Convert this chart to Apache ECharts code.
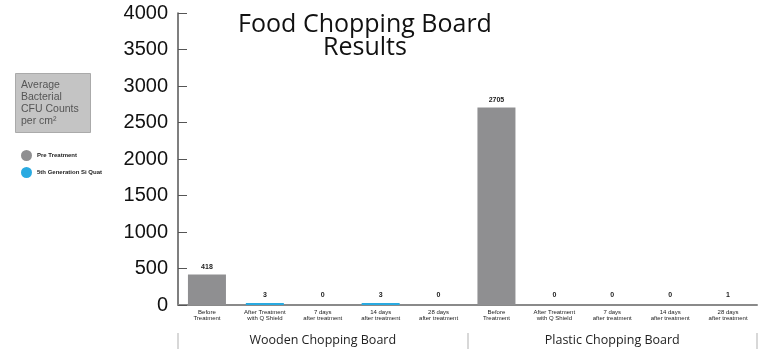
<!DOCTYPE html>
<html>
<head>
<meta charset="utf-8">
<script src="https://cdn.jsdelivr.net/npm/echarts@6/dist/echarts.min.js"></script>
<style>
  html, body { margin: 0; padding: 0; background: #fff; }
  #chart { width: 773px; height: 350px; }
</style>
</head>
<body>
<div id="chart"></div>
<script>
// categories along the x axis
const stages = [
  "Before\nTreatment", "After Treatment\nwith Q Shield", "7 days\nafter treatment",
  "14 days\nafter treatment", "28 days\nafter treatment",
  "Before\nTreatment", "After Treatment\nwith Q Shield", "7 days\nafter treatment",
  "14 days\nafter treatment", "28 days\nafter treatment"
];
const boards = ["Wooden Chopping Board", "Plastic Chopping Board"];

// CFU counts per cm2
const preTreatment = [418, null, null, null, null, 2705, null, null, null, null];
const siQuat = [null, 3, 0, 3, 0, null, 0, 0, 0, 1];

const yTicks = { min: 0, max: 4000, interval: 500 };

const chart = echarts.init(document.getElementById("chart"));

const labelStyle = {
  show: true,
  position: "top",
  distance: 4,
  fontSize: 7,
  fontWeight: "bold",
  color: "#222",
  fontFamily: "Liberation Sans",
};

chart.setOption({
  animation: false,
  title: [
    {
      text: "Food Chopping Board\nResults",
      left: 360,
      top: 8,
      textAlign: "center",
      textStyle: {
        fontFamily: "Open Sans",
        fontSize: 25,
        fontWeight: "normal",
        color: "#111",
        lineHeight: 23,
      },
    },
    {
      text: "Average\nBacterial\nCFU Counts\nper cm²",
      left: 15,
      top: 73,
      backgroundColor: "#c4c4c4",
      borderColor: "#aaa",
      borderWidth: 1,
      padding: [6, 12, 6, 6],
      textStyle: {
        fontFamily: "Liberation Sans",
        fontSize: 10.5,
        fontWeight: "normal",
        color: "#555",
        lineHeight: 12,
      },
    },
  ],
  legend: {
    orient: "vertical",
    left: 16,
    top: 145,
    itemGap: 6,
    icon: "circle",
    itemWidth: 11,
    itemHeight: 11,
    textStyle: {
      fontSize: 6,
      fontWeight: "bold",
      color: "#222",
      fontFamily: "Liberation Sans",
    },
    data: ["Pre Treatment", "5th Generation Si Quat"],
  },
  grid: { left: 178, right: 16, top: 13, bottom: 45 },
  xAxis: [
    {
      type: "category",
      data: stages,
      axisLine: { lineStyle: { color: "#8a8a8a", width: 2 } },
      axisTick: { show: false },
      axisLabel: {
        interval: 0,
        margin: 4,
        fontSize: 6,
        lineHeight: 6,
        color: "#222",
        fontFamily: "Liberation Sans",
      },
    },
    {
      type: "category",
      position: "bottom",
      offset: 28,
      data: boards,
      axisLine: { show: false },
      axisTick: { show: true, length: 16, lineStyle: { color: "#d8d8d8", width: 2 } },
      axisLabel: {
        margin: 1,
        fontSize: 12.5,
        color: "#222",
        fontFamily: "Open Sans",
      },
    },
  ],
  yAxis: {
    type: "value",
    min: yTicks.min,
    max: yTicks.max,
    interval: yTicks.interval,
    axisLine: { show: true, lineStyle: { color: "#555", width: 1.5 } },
    axisTick: { show: true, inside: true, length: 9, lineStyle: { color: "#555" } },
    splitLine: { show: false },
    axisLabel: {
      fontSize: 20,
      color: "#111",
      margin: 10,
      fontFamily: "Liberation Sans",
      formatter: v => String(v),
    },
  },
  series: [
    {
      name: "Pre Treatment",
      type: "bar",
      barWidth: 38,
      barGap: "-100%",
      itemStyle: { color: "#8f8f91" },
      label: labelStyle,
      data: preTreatment,
    },
    {
      name: "5th Generation Si Quat",
      type: "bar",
      barWidth: 38,
      barMinHeight: 2,
      itemStyle: { color: "#29aae1" },
      label: labelStyle,
      data: siQuat.map(v =>
        v !== null && v < 2 ? { value: v, itemStyle: { color: "rgba(0,0,0,0)" } } : v
      ),
    },
  ],
});
</script>
</body>
</html>
